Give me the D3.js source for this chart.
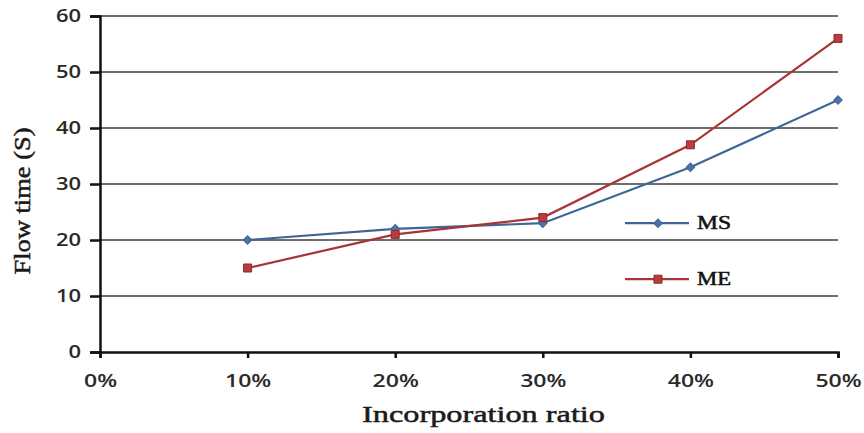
<!DOCTYPE html>
<html>
<head>
<meta charset="utf-8">
<script src="https://cdn.jsdelivr.net/npm/d3@7"></script>
<style>
  html, body { margin: 0; padding: 0; background: #fff; }
  svg { display: block; }
</style>
</head>
<body>
<svg id="chart" width="864" height="433"></svg>
<script>
// Flow time vs incorporation ratio for two mixes
const ratios = [0, 10, 20, 30, 40, 50];
const pointRatios = [10, 20, 30, 40, 50];
const msValues = [20, 22, 23, 33, 45];
const meValues = [15, 21, 24, 37, 56];
const yTicks = [0, 10, 20, 30, 40, 50, 60];
const seriesNames = ["MS", "ME"];
const seriesColors = ["#3f6597", "#a83434"];

const svg = d3.select("#chart");
const margin = { left: 100, right: 26, top: 16, bottom: 81 };
const W = 864, H = 433;

const x = d3.scaleLinear().domain([0, 50]).range([margin.left, W - margin.right]);
const y = d3.scaleLinear().domain([0, 60]).range([H - margin.bottom, margin.top]);

// widen text horizontally by a factor, keeping its anchor
function stretch(sel, factor) {
  sel.each(function () {
    const w = this.getComputedTextLength();
    d3.select(this).attr("textLength", w * factor).attr("lengthAdjust", "spacingAndGlyphs");
  });
}

// horizontal gridlines
svg.append("g")
  .selectAll("line")
  .data(yTicks.filter(d => d > 0))
  .join("line")
  .attr("x1", x(0)).attr("x2", x(50))
  .attr("y1", d => y(d)).attr("y2", d => y(d))
  .attr("stroke", "#6e6e6e").attr("stroke-width", 2);

const tickFont = sel => sel
  .attr("font-family", "'Open Sans', sans-serif")
  .attr("font-size", 18).attr("font-weight", 600).attr("fill", "#2a2a2a");

// y axis
const yAxis = svg.append("g")
  .attr("transform", `translate(${x(0)},0)`)
  .call(d3.axisLeft(y).tickValues(yTicks).tickSize(10).tickPadding(9).tickFormat(d3.format("d")));
yAxis.select(".domain").attr("stroke", "#111").attr("stroke-width", 2.5);
yAxis.selectAll(".tick line").attr("stroke", "#111").attr("stroke-width", 2.5);
yAxis.selectAll("text").call(tickFont);
stretch(yAxis.selectAll("text"), 1.22);

// x axis
const xAxis = svg.append("g")
  .attr("transform", `translate(0,${y(0)})`)
  .call(d3.axisBottom(x).tickValues(ratios).tickSize(6).tickPadding(16).tickFormat(d => d + "%"));
xAxis.select(".domain").attr("stroke", "#111").attr("stroke-width", 2.5);
xAxis.selectAll(".tick line").attr("stroke", "#111").attr("stroke-width", 2.5);
xAxis.selectAll("text").call(tickFont);
stretch(xAxis.selectAll("text"), 1.28);

// series lines and markers
const line = d3.line().x(d => x(d[0])).y(d => y(d[1]));
const seriesData = [msValues, meValues].map(vals => pointRatios.map((r, i) => [r, vals[i]]));

seriesData.forEach((pts, si) => {
  svg.append("path")
    .datum(pts)
    .attr("d", line)
    .attr("fill", "none")
    .attr("stroke", seriesColors[si])
    .attr("stroke-width", 2.2);
});

// square symbol turned 45 degrees gives an even diamond
const diamond = d3.symbol().type(d3.symbolSquare).size(36);
const square = d3.symbol().type(d3.symbolSquare).size(64);

// MS markers: diamonds
svg.append("g").selectAll("path")
  .data(seriesData[0])
  .join("path")
  .attr("transform", d => `translate(${x(d[0])},${y(d[1])}) rotate(45)`)
  .attr("d", diamond)
  .attr("fill", "#4a72a8").attr("stroke", seriesColors[0]).attr("stroke-width", 1);

// ME markers: squares
svg.append("g").selectAll("path")
  .data(seriesData[1])
  .join("path")
  .attr("transform", d => `translate(${x(d[0])},${y(d[1])})`)
  .attr("d", square)
  .attr("fill", "#b83c3c").attr("stroke", "#8e2a2a").attr("stroke-width", 1);

// legend
const legendY = [y(23), y(13)];
seriesNames.forEach((name, i) => {
  const g = svg.append("g").attr("transform", `translate(625,${legendY[i]})`);
  g.append("line").attr("x1", 0).attr("x2", 64).attr("y1", 0).attr("y2", 0)
    .attr("stroke", seriesColors[i]).attr("stroke-width", 2.2);
  g.append("path")
    .attr("transform", i === 0 ? "translate(33,0) rotate(45)" : "translate(33,0)")
    .attr("d", i === 0 ? diamond : square)
    .attr("fill", i === 0 ? "#4a72a8" : "#b83c3c")
    .attr("stroke", i === 0 ? seriesColors[0] : "#8e2a2a");
  g.append("text").attr("x", 72).attr("y", 6)
    .attr("font-family", "'Liberation Serif', serif")
    .attr("font-size", 18).attr("fill", "#111")
    .attr("stroke", "#111").attr("stroke-width", 0.5)
    .attr("textLength", 34).attr("lengthAdjust", "spacingAndGlyphs")
    .text(name);
});

// axis titles
svg.append("text")
  .attr("transform", `translate(30,201) rotate(-90)`)
  .attr("text-anchor", "middle")
  .attr("font-family", "'Liberation Serif', serif")
  .attr("font-size", 23).attr("fill", "#1a1a1a")
  .attr("stroke", "#1a1a1a").attr("stroke-width", 0.5)
  .attr("textLength", 147).attr("lengthAdjust", "spacingAndGlyphs")
  .text("Flow time (S)");

svg.append("text")
  .attr("x", 483.5)
  .attr("y", 422)
  .attr("text-anchor", "middle")
  .attr("font-family", "'Liberation Serif', serif")
  .attr("font-size", 24).attr("fill", "#1a1a1a")
  .attr("stroke", "#1a1a1a").attr("stroke-width", 0.5)
  .attr("textLength", 243).attr("lengthAdjust", "spacingAndGlyphs")
  .text("Incorporation ratio");
</script>
</body>
</html>
